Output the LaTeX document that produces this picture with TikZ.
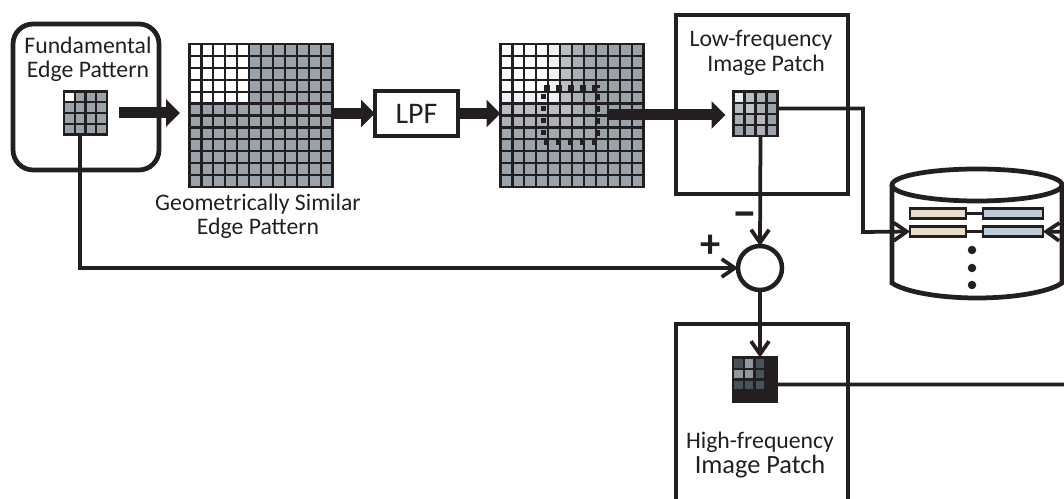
\documentclass[tikz,border=0pt]{standalone}
\usepackage{fontspec}
\setmainfont{Carlito}
\usepackage{xcolor}
\usetikzlibrary{arrows.meta, positioning}
\definecolor{inkblack}{RGB}{35, 31, 32}
\definecolor{patchgray}{RGB}{154, 163, 170}
\definecolor{residgray}{RGB}{70, 83, 90}
\definecolor{keytan}{RGB}{232, 220, 203}
\definecolor{valueblue}{RGB}{190, 203, 216}
\tikzset{
  framebox/.style={draw=inkblack, line width=0.95mm, inner sep=0pt, outer sep=0pt},
  patchbox/.style={draw=inkblack, fill=patchgray, line width=0.45mm, inner sep=0pt, outer sep=0pt},
  gridline/.style={draw=inkblack, line width=0.45mm},
  thinarrow/.style={draw=inkblack, line width=0.75mm, -{Straight Barb[length=2.6mm, width=3.6mm]}},
  thinline/.style={draw=inkblack, line width=0.75mm},
  fatarrow/.style={draw=inkblack, line width=2.2mm, -{Triangle[length=2.8mm, width=5.4mm]}},
  textlabel/.style={text=inkblack, align=center, inner sep=0pt, font=\fontsize{13.5}{13.8}\selectfont},
  recordbox/.style={draw=inkblack, line width=0.5mm, inner sep=0pt, outer sep=0pt, minimum height=0.2cm},
}
\newcommand{\tintcells}[5]{%
  \foreach \rowtints [count=\r from 0] in {#5} {
    \foreach \t [count=\c from 0] in \rowtints {
      \fill[#4!\t] ({#1+\c*#3},{#2+\r*#3}) rectangle ++(#3,#3);
    }
  }
}
\newcommand{\cellgrid}[4]{%
  \foreach \k in {0,...,#3} {
    \draw[gridline] ({#1+\k*#4},#2) -- ({#1+\k*#4},{#2+#3*#4});
    \draw[gridline] (#1,{#2+\k*#4}) -- ({#1+#3*#4},{#2+\k*#4});
  }
}
\def\rampvals{{0,0,0,0,15,70,85,95,100,100,100,100}}
\begin{document}
\begin{tikzpicture}[x=0.02cm, y=-0.02cm]
  \useasboundingbox (0,0) rectangle (1064,499);
  % edge pattern
  \node[framebox, rounded corners=0.4cm, minimum width=2.92cm, minimum height=2.92cm] (edgebox) at (86,97) {};
  \node[textlabel] (edgetext) at (88,59) {Fundamental\\Edge Pattern};
  \node[patchbox, minimum size=0.86cm] (edgepatch) at (85.5,113) {};
  \tintcells{64}{91.5}{10.75}{patchgray}{{0,100,100,100}}
  \cellgrid{64}{91.5}{4}{10.75}
  % similar pattern
  \node[patchbox, minimum size=2.86cm] (similar) at (261,115.5) {};
  \tintcells{189.5}{44}{11.92}{white}{{100,100,100,100,100},{100,100,100,100,100},{100,100,100,100,100},{100,100,100,100,100},{100,100,100,100,100}}
  \cellgrid{189.5}{44}{12}{11.92}
  \node[textlabel] (similartext) at (258,216) {Geometrically Similar\\Edge Pattern};
  % low pass filter
  \node[framebox, fill=white, minimum width=1.66cm, minimum height=0.9cm, font=\fontsize{17}{17}\selectfont, text=inkblack] (lpf) at (416.5,113.5) {LPF};
  % blurred pattern
  \node[patchbox, minimum size=2.86cm] (blurred) at (572,115.5) {};
  \foreach \r in {0,...,11} {
    \foreach \c in {0,...,11} {
      \pgfmathsetmacro\t{max(\rampvals[\c],\rampvals[\r])}
      \fill[patchgray!\t] ({500.5+\c*11.92},{44+\r*11.92}) rectangle ++(11.92,11.92);
    }
  }
  \cellgrid{500.5}{44}{12}{11.92}
  \node[draw=inkblack, line width=1.15mm, dash pattern=on 1.1mm off 1.3mm, minimum size=1.08cm, inner sep=0pt] (window) at (570.5,115) {};
  % low frequency patch
  \node[framebox, minimum width=3.44cm, minimum height=3.58cm] (lowbox) at (762,104.5) {};
  \node[textlabel] (lowtext) at (761,53) {Low-frequency\\\hspace*{0.2cm}Image Patch};
  \node[patchbox, minimum size=0.88cm] (lowpatch) at (755.5,113.5) {};
  \tintcells{733.5}{92}{11}{patchgray}{{20,70,85,100},{70,65,85,100},{85,85,75,100},{100,90,85,100}}
  \cellgrid{733.5}{92}{4}{11}
  % subtraction
  \node[draw=inkblack, line width=0.9mm, circle, fill=white, minimum size=0.88cm, inner sep=0pt, outer sep=0pt] (sum) at (760,268) {};
  \node[text=inkblack, inner sep=0pt, font=\fontsize{23}{23}\selectfont\bfseries] (plus) at (711,246) {+};
  \node[text=inkblack, inner sep=0pt, font=\fontsize{26}{26}\selectfont\bfseries] (minus) at (745,220) {−};
  % high frequency patch
  \draw[inkblack, line width=0.95mm] (676,505) -- (676,324) -- (848,324) -- (848,505);
  \node[text=inkblack, align=center, inner sep=0pt, font=\fontsize{13.5}{13.8}\selectfont] (hightext) at (760,455) {High-frequency\\{\fontsize{15}{14}\selectfont Image Patch}};
  \node[patchbox, fill=inkblack, minimum size=0.88cm] (highpatch) at (755,379.5) {};
  \tintcells{733}{358}{10.75}{residgray}{{100,60,100},{60,60,100},{100,100,100}}
  \cellgrid{733}{358}{3}{10.75}
  % database
  \draw[inkblack, line width=0.95mm] (892,185) -- (892,283) .. controls (905,292) and (940,298) .. (977,298) .. controls (1014,298) and (1049,292) .. (1062,283) -- (1062,185);
  \draw[inkblack, line width=0.95mm] (977,185) ellipse [x radius=85, y radius=16];
  \node[recordbox, fill=keytan, minimum width=1.12cm] (keyone) at (938,213.5) {};
  \node[recordbox, fill=valueblue, minimum width=1.2cm] (valueone) at (1013,213.5) {};
  \node[recordbox, fill=keytan, minimum width=1.12cm] (keytwo) at (938,231.5) {};
  \node[recordbox, fill=valueblue, minimum width=1.2cm] (valuetwo) at (1013,231.5) {};
  \draw[inkblack, line width=0.5mm] (keyone) -- (valueone);
  \draw[inkblack, line width=0.5mm] (keytwo) -- (valuetwo);
  \foreach \n/\y in {dotone/250, dottwo/268, dotthree/285} {
    \node[circle, fill=inkblack, minimum size=0.17cm, inner sep=0pt] (\n) at (972,\y) {};
  }
  % connectors
  \draw[fatarrow] ([xshift=0.24cm]edgepatch.east) -- ([xshift=-0.19cm]edgepatch.east -| similar.west);
  \draw[fatarrow] (similar.east |- lpf.west) -- (lpf.west);
  \draw[fatarrow] (lpf.east) -- (lpf.east -| blurred.west);
  \draw[fatarrow] ([xshift=0.14cm]window.east) -- ([xshift=-0.16cm]window.east -| lowpatch.west);
  \draw[thinarrow] ([xshift=-0.11cm]edgepatch.south) |- (sum.west);
  \draw[thinarrow] ([xshift=0.1cm]lowpatch.south) -- (sum.north);
  \draw[thinarrow] (sum.south) -- (sum.south |- highpatch.north);
  \coordinate (dbturn) at (863,232);
  \draw[thinarrow] ([yshift=0.1cm]lowpatch.east) -| (dbturn) -- (keytwo.west);
  \coordinate (dbedge) at (1066,232);
  \draw[thinarrow] (dbedge) -- (valuetwo.east);
  \coordinate (highedge) at (1066,384.5);
  \draw[thinline] ([yshift=-0.1cm]highpatch.east) -- (highedge);
\end{tikzpicture}
\end{document}
